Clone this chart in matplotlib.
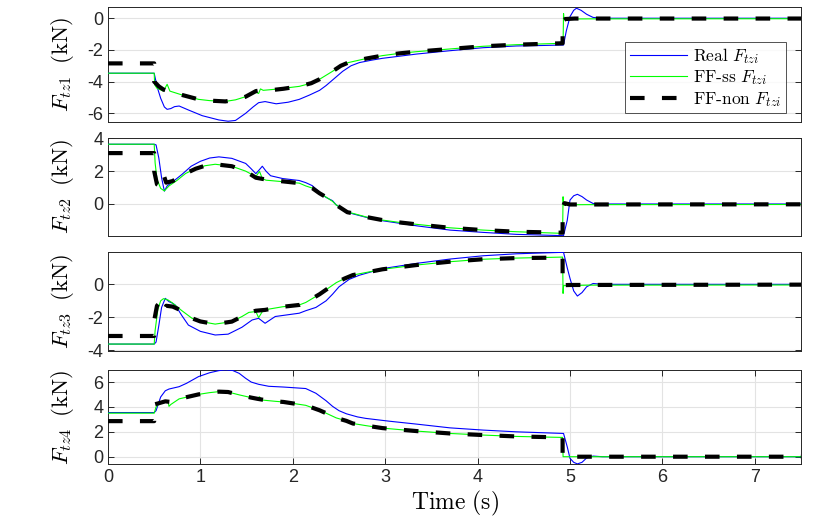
import numpy as np
import matplotlib
matplotlib.use("Agg")
import matplotlib.pyplot as plt

plt.rcParams['font.family'] = ['Liberation Sans', 'DejaVu Sans']
plt.rcParams['mathtext.fontset'] = 'cm'
plt.rcParams['axes.unicode_minus'] = False
plt.rcParams['lines.scale_dashes'] = False

# ---------------- data ----------------
# Panel 1: F_tz1
t1_real = [0, 0.5, 0.53, 0.57, 0.61, 0.64, 0.68, 0.72, 0.77, 0.87, 1.02, 1.2, 1.3, 1.38, 1.49, 1.57, 1.63, 1.7, 1.82, 1.95, 2.07, 2.18, 2.29, 2.36, 2.45, 2.54, 2.63, 2.72, 2.85, 2.97, 3.15, 3.34, 3.7, 4.06, 4.42, 4.7, 4.93, 4.96, 5.0, 5.04, 5.07, 5.12, 5.18, 5.25, 5.35, 7.5]
v1_real = [-3.47, -3.47, -4.3, -5.05, -5.6, -5.75, -5.7, -5.58, -5.54, -5.79, -6.15, -6.42, -6.5, -6.45, -6.0, -5.6, -5.33, -5.26, -5.4, -5.3, -5.12, -4.85, -4.55, -4.25, -3.8, -3.35, -3.0, -2.8, -2.65, -2.53, -2.4, -2.26, -2.05, -1.86, -1.75, -1.72, -1.69, -0.8, 0.1, 0.5, 0.63, 0.5, 0.25, 0.05, 0.0, 0.0]
t1_ss = [0, 0.5, 0.505, 0.53, 0.6, 0.64, 0.67, 0.8, 0.98, 1.1, 1.27, 1.38, 1.49, 1.6, 1.63, 1.65, 1.68, 1.815, 2.07, 2.2, 2.29, 2.43, 2.52, 2.6, 2.79, 2.97, 3.15, 3.34, 3.7, 4.06, 4.42, 4.925, 4.93, 4.935, 5.2, 7.5]
v1_ss = [-3.47, -3.47, -4.2, -4.42, -4.6, -4.17, -4.6, -4.84, -5.12, -5.2, -5.25, -5.15, -4.95, -4.67, -4.75, -4.46, -4.55, -4.48, -4.3, -4.1, -3.85, -3.35, -3.0, -2.8, -2.55, -2.36, -2.22, -2.11, -1.94, -1.77, -1.67, -1.58, 0.3, -0.05, -0.04, -0.03]
t1_non = [0, 0.5, 0.5, 0.55, 0.6, 0.7, 0.8, 0.98, 1.1, 1.27, 1.38, 1.49, 1.6, 1.65, 1.75, 1.9, 2.07, 2.2, 2.29, 2.43, 2.52, 2.6, 2.79, 2.97, 3.15, 3.34, 3.7, 4.06, 4.42, 4.92, 4.92, 4.95, 5.05, 7.5]
v1_non = [-2.85, -2.85, -4.0, -4.3, -4.5, -4.68, -4.84, -5.12, -5.2, -5.25, -5.15, -4.95, -4.6, -4.55, -4.55, -4.45, -4.3, -4.1, -3.85, -3.35, -3.0, -2.8, -2.55, -2.36, -2.22, -2.11, -1.94, -1.77, -1.67, -1.58, -0.15, -0.05, -0.02, -0.02]

# Panel 2: F_tz2
t2_real = [0, 0.5, 0.52, 0.55, 0.58, 0.61, 0.64, 0.7, 0.8, 0.9, 1.0, 1.1, 1.2, 1.34, 1.49, 1.545, 1.6, 1.64, 1.67, 1.71, 1.76, 1.89, 2.07, 2.14, 2.21, 2.29, 2.36, 2.43, 2.47, 2.59, 2.65, 2.8, 2.97, 3.15, 3.34, 3.7, 4.06, 4.42, 4.93, 4.97, 5.0, 5.04, 5.08, 5.13, 5.18, 5.25, 5.35, 7.5]
v2_real = [3.64, 3.64, 3.6, 2.8, 1.6, 0.78, 1.1, 1.35, 1.8, 2.3, 2.6, 2.8, 2.87, 2.78, 2.47, 2.17, 1.85, 2.1, 2.3, 2.0, 1.72, 1.55, 1.43, 1.3, 1.12, 0.72, 0.4, 0.2, -0.06, -0.48, -0.6, -0.82, -1.02, -1.17, -1.33, -1.59, -1.73, -1.85, -1.93, -1.0, 0.24, 0.5, 0.59, 0.45, 0.24, 0.03, 0.0, 0.0]
t2_ss = [0, 0.5, 0.51, 0.53, 0.57, 0.61, 0.66, 0.75, 0.84, 0.95, 1.05, 1.16, 1.34, 1.49, 1.6, 1.64, 1.67, 1.71, 1.89, 2.07, 2.14, 2.21, 2.29, 2.36, 2.43, 2.47, 2.59, 2.65, 2.8, 2.97, 3.15, 3.34, 3.7, 4.06, 4.42, 4.92, 4.925, 4.93, 5.2, 7.5]
v2_ss = [3.64, 3.64, 2.5, 1.5, 0.95, 0.8, 1.1, 1.45, 1.86, 2.15, 2.33, 2.42, 2.3, 2.0, 1.67, 1.98, 1.55, 1.45, 1.36, 1.27, 1.1, 0.97, 0.65, 0.42, 0.16, -0.06, -0.5, -0.57, -0.8, -0.98, -1.12, -1.24, -1.45, -1.59, -1.69, -1.79, 0.44, -0.05, -0.04, -0.03]
t2_non = [0, 0.5, 0.5, 0.53, 0.56, 0.6, 0.63, 0.7, 0.84, 0.95, 1.05, 1.16, 1.34, 1.49, 1.6, 1.7, 1.89, 2.07, 2.14, 2.21, 2.29, 2.36, 2.43, 2.47, 2.59, 2.65, 2.8, 2.97, 3.15, 3.34, 3.7, 4.06, 4.42, 4.92, 4.92, 4.94, 5.0, 7.5]
v2_non = [3.1, 3.1, 2.0, 1.2, 1.1, 1.8, 1.3, 1.4, 1.86, 2.15, 2.33, 2.42, 2.3, 2.0, 1.6, 1.5, 1.38, 1.27, 1.1, 0.97, 0.65, 0.42, 0.16, -0.06, -0.5, -0.57, -0.8, -0.98, -1.12, -1.24, -1.45, -1.59, -1.69, -1.75, -0.2, 0.05, -0.03, -0.02]

# Panel 3: F_tz3
t3_real = [0, 0.5, 0.52, 0.55, 0.58, 0.62, 0.66, 0.7, 0.73, 0.8, 0.87, 1.0, 1.16, 1.3, 1.45, 1.56, 1.63, 1.7, 1.81, 2.07, 2.14, 2.25, 2.36, 2.43, 2.5, 2.61, 2.72, 2.97, 3.34, 3.7, 4.06, 4.42, 4.93, 4.97, 5.0, 5.04, 5.08, 5.13, 5.18, 5.25, 5.35, 7.5]
v3_real = [-3.62, -3.62, -3.5, -2.5, -1.4, -0.85, -1.05, -1.15, -1.27, -1.9, -2.47, -2.85, -3.07, -3.02, -2.6, -2.16, -2.06, -2.36, -1.95, -1.75, -1.6, -1.4, -1.0, -0.6, -0.15, 0.3, 0.55, 0.95, 1.27, 1.53, 1.73, 1.85, 1.94, 1.0, 0.36, -0.4, -0.71, -0.5, -0.15, 0.05, 0.0, 0.0]
t3_ss = [0, 0.5, 0.51, 0.54, 0.57, 0.6, 0.65, 0.69, 0.8, 0.91, 1.0, 1.16, 1.34, 1.45, 1.525, 1.6, 1.63, 1.68, 1.89, 2.07, 2.14, 2.29, 2.38, 2.47, 2.56, 2.65, 2.97, 3.34, 3.7, 4.06, 4.42, 4.92, 4.925, 4.93, 5.2, 7.5]
v3_ss = [-3.62, -3.62, -2.8, -1.5, -1.0, -0.87, -0.95, -1.1, -1.6, -2.06, -2.25, -2.41, -2.26, -1.95, -1.7, -1.65, -2.02, -1.56, -1.36, -1.25, -1.1, -0.6, -0.25, 0.1, 0.35, 0.56, 0.91, 1.17, 1.37, 1.52, 1.59, 1.65, -0.55, -0.08, -0.05, -0.04]
t3_non = [0, 0.5, 0.5, 0.53, 0.56, 0.6, 0.63, 0.7, 0.8, 0.91, 1.0, 1.16, 1.34, 1.45, 1.525, 1.6, 1.7, 1.89, 2.07, 2.14, 2.29, 2.38, 2.47, 2.56, 2.65, 2.97, 3.34, 3.7, 4.06, 4.42, 4.92, 4.92, 4.94, 5.0, 7.5]
v3_non = [-3.13, -3.13, -2.2, -1.3, -1.1, -1.65, -1.3, -1.35, -1.6, -2.06, -2.25, -2.41, -2.26, -1.95, -1.72, -1.6, -1.55, -1.36, -1.25, -1.1, -0.6, -0.25, 0.1, 0.35, 0.56, 0.91, 1.17, 1.37, 1.52, 1.59, 1.62, -0.15, -0.05, -0.04, -0.02]

# Panel 4: F_tz4
t4_real = [0, 0.5, 0.52, 0.57, 0.62, 0.66, 0.77, 0.85, 0.98, 1.1, 1.2, 1.27, 1.35, 1.42, 1.49, 1.55, 1.63, 1.74, 1.9, 2.14, 2.25, 2.36, 2.43, 2.5, 2.58, 2.7, 2.79, 2.97, 3.05, 3.34, 3.7, 4.06, 4.42, 4.93, 4.97, 5.0, 5.04, 5.08, 5.13, 5.18, 5.25, 5.35, 7.5]
v4_real = [3.55, 3.55, 3.7, 4.8, 5.3, 5.44, 5.63, 5.9, 6.44, 6.75, 6.92, 6.98, 6.93, 6.7, 6.3, 6.0, 5.82, 5.66, 5.6, 5.48, 5.1, 4.5, 4.05, 3.7, 3.45, 3.2, 3.08, 2.92, 2.85, 2.62, 2.32, 2.14, 2.0, 1.87, 0.8, -0.13, -0.45, -0.58, -0.45, -0.1, 0.05, 0.0, 0.0]
t4_ss = [0, 0.5, 0.52, 0.55, 0.62, 0.65, 0.66, 0.68, 0.77, 0.98, 1.1, 1.2, 1.3, 1.42, 1.55, 1.62, 1.64, 1.66, 1.815, 1.9, 2.14, 2.29, 2.36, 2.47, 2.58, 2.65, 2.79, 2.97, 3.34, 3.7, 4.06, 4.42, 4.92, 4.925, 7.5]
v4_ss = [3.5, 3.5, 4.0, 4.25, 4.37, 4.45, 4.05, 4.2, 4.65, 5.01, 5.15, 5.23, 5.2, 4.97, 4.75, 4.69, 4.82, 4.56, 4.45, 4.4, 4.13, 3.73, 3.5, 3.12, 2.88, 2.67, 2.5, 2.3, 2.06, 1.87, 1.74, 1.63, 1.55, 0.0, 0.0]
t4_non = [0, 0.5, 0.5, 0.55, 0.62, 0.68, 0.77, 0.98, 1.1, 1.2, 1.3, 1.42, 1.55, 1.62, 1.7, 1.815, 1.9, 2.14, 2.29, 2.36, 2.47, 2.58, 2.65, 2.79, 2.97, 3.34, 3.7, 4.06, 4.42, 4.92, 4.92, 5.0, 7.5]
v4_non = [2.86, 2.86, 4.2, 4.3, 4.45, 4.4, 4.65, 5.01, 5.15, 5.23, 5.2, 4.97, 4.75, 4.65, 4.55, 4.45, 4.4, 4.13, 3.73, 3.5, 3.12, 2.88, 2.67, 2.5, 2.3, 2.06, 1.87, 1.74, 1.63, 1.55, 0.1, 0.0, 0.0]

panel_names = ['1', '2', '3', '4']
yticks_list = [[-6, -4, -2, 0], [0, 2, 4], [-4, -2, 0], [0, 2, 4, 6]]
ylims = [(-6.53, 0.69), (-1.95, 4.05), (-4.04, 1.94), (-0.61, 6.97)]
xticks = [0, 1, 2, 3, 4, 5, 6, 7]
legend_labels = [r'$\mathrm{Real}\ F_{tzi}$', r'$\mathrm{FF\text{-}ss}\ F_{tzi}$', r'$\mathrm{FF\text{-}non}\ F_{tzi}$']

data = [
    (t1_real, v1_real, t1_ss, v1_ss, t1_non, v1_non),
    (t2_real, v2_real, t2_ss, v2_ss, t2_non, v2_non),
    (t3_real, v3_real, t3_ss, v3_ss, t3_non, v3_non),
    (t4_real, v4_real, t4_ss, v4_ss, t4_non, v4_non),
]

# ---------------- figure ----------------
fig = plt.figure(figsize=(8.3, 5.21), dpi=100)
W, H = 830, 521
boxes = [(7.3, 121.7), (137.5, 236), (252.3, 351), (370, 464.3)]
left_px, right_px = 108, 801
spine_col = '#262626'
axes = []
for i, (top, bot) in enumerate(boxes):
    ax = fig.add_axes([left_px / W, 1 - bot / H, (right_px - left_px) / W, (bot - top) / H])
    axes.append(ax)
    tr, vr, ts, vs, tn, vn = data[i]
    ax.plot(tr, vr, color=(0, 0, 1), lw=0.8, label=legend_labels[0], zorder=3)
    ax.plot(ts, vs, color=(0, 1, 0), lw=0.8, label=legend_labels[1], zorder=4)
    ax.plot(tn, vn, color='k', lw=3.0, linestyle=(0, (10.5, 12.5)), label=legend_labels[2], zorder=5)
    ax.set_xlim(0, 7.5)
    ax.set_ylim(*ylims[i])
    ax.set_yticks(yticks_list[i])
    ax.yaxis.grid(True, color='#e3e3e3', lw=0.8)
    ax.set_axisbelow(True)
    ax.tick_params(direction='in', length=4, width=0.7, colors=spine_col, labelsize=13,
                   left=True, right=True, top=(i == 3), bottom=(i == 3), labelcolor='#262626')
    for sp in ax.spines.values():
        sp.set_color(spine_col)
        sp.set_linewidth(0.7)
    if i < 3:
        ax.set_xticks([])
    else:
        ax.set_xticks(xticks)
        ax.xaxis.grid(True, color='#e3e3e3', lw=0.8)
        ax.set_xlabel(r'$\mathrm{Time\ (s)}$', fontsize=17, labelpad=2)
    ax.set_ylabel(r'$F_{tz%s}\;\;\mathrm{(kN)}$' % panel_names[i], fontsize=16.5)
    ax.yaxis.set_label_coords(-0.046, 0.5)

leg = axes[0].legend(loc='upper right', bbox_to_anchor=(0.978, 0.70), borderaxespad=0,
                     fontsize=12.5, frameon=True, fancybox=False, handlelength=3.3,
                     handletextpad=0.35, borderpad=0.25, labelspacing=0.15)
leg.get_frame().set_edgecolor('#262626')
leg.get_frame().set_linewidth(0.7)

fig.savefig('out.png', dpi=100)
